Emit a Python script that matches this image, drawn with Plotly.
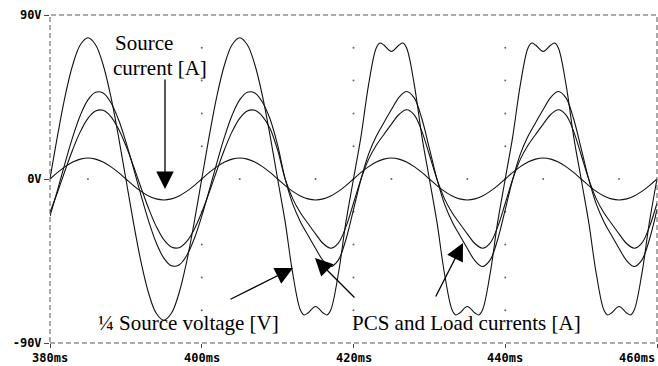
import plotly.graph_objects as go

# ---------------- data ----------------
t_ms = list(range(380, 461))

source_current = [
    0, 3.6, 6.8, 9.3, 10.9, 11.5, 10.9, 9.3, 6.8, 3.6,
    0, -3.6, -6.8, -9.3, -10.9, -11.5, -10.9, -9.3, -6.8, -3.6,
    0, 3.6, 6.8, 9.3, 10.9, 11.5, 10.9, 9.3, 6.8, 3.6,
    0, -3.6, -6.8, -9.3, -10.9, -11.5, -10.9, -9.3, -6.8, -3.6,
    0, 3.6, 6.8, 9.3, 10.9, 11.5, 10.9, 9.3, 6.8, 3.6,
    0, -3.6, -6.8, -9.3, -10.9, -11.5, -10.9, -9.3, -6.8, -3.6,
    0, 3.6, 6.8, 9.3, 10.9, 11.5, 10.9, 9.3, 6.8, 3.6,
    0, -3.6, -6.8, -9.3, -10.9, -11.5, -10.9, -9.3, -6.8, -3.6,
    0,
]

current_a = [
    -20.4, -6.0, 9.0, 23.1, 35.0, 43.4, 47.6, 47.2, 42.1, 32.9,
    20.4, 6.0, -9.0, -23.1, -35.0, -43.4, -47.6, -47.2, -42.1, -32.9,
    -20.4, -6.0, 9.0, 23.1, 35.0, 43.4, 47.6, 47.2, 42.1, 32.9,
    18.6, -0.1, -13.8, -23.4, -30.9, -38.1, -44.8, -48.0, -44.5, -33.2,
    -16.8, 0.1, 13.8, 23.4, 30.9, 38.1, 44.8, 48.0, 44.5, 33.2,
    16.8, -0.1, -13.8, -23.4, -30.9, -38.1, -44.8, -48.0, -44.5, -33.2,
    -16.8, 0.1, 13.8, 23.4, 30.9, 38.1, 44.8, 48.0, 44.5, 33.2,
    16.8, -0.1, -13.8, -23.4, -30.9, -38.1, -44.8, -48.0, -44.5, -33.2,
    -16.8,
]

current_b = [
    -18.3, -7.1, 4.8, 16.2, 26.0, 33.3, 37.3, 37.7, 34.4, 27.7,
    18.3, 7.1, -4.8, -16.2, -26.0, -33.3, -37.3, -37.7, -34.4, -27.7,
    -18.3, -7.1, 4.8, 16.2, 26.0, 33.3, 37.3, 37.7, 34.4, 27.7,
    15.8, -0.1, -10.9, -18.5, -24.4, -30.1, -35.4, -38.0, -35.2, -26.3,
    -13.3, 0.1, 10.9, 18.5, 24.4, 30.1, 35.4, 38.0, 35.2, 26.3,
    13.3, -0.1, -10.9, -18.5, -24.4, -30.1, -35.4, -38.0, -35.2, -26.3,
    -13.3, 0.1, 10.9, 18.5, 24.4, 30.1, 35.4, 38.0, 35.2, 26.3,
    13.3, -0.1, -10.9, -18.5, -24.4, -30.1, -35.4, -38.0, -35.2, -26.3,
    -13.3,
]

voltage_t = [
    380, 381, 382, 383, 384, 385, 386, 387, 388, 389,
    390, 391, 392, 393, 394, 395, 396, 397, 398, 399,
    400, 401, 402, 403, 404, 405, 406, 407, 408, 409,
    410, 411, 412, 413, 413.5, 414, 415, 416, 416.5, 417, 418, 419,
    420, 421, 422, 423, 423.5, 424, 425, 426, 426.5, 427, 428, 429,
    430, 431, 432, 433, 433.5, 434, 435, 436, 436.5, 437, 438, 439,
    440, 441, 442, 443, 443.5, 444, 445, 446, 446.5, 447, 448, 449,
    450, 451, 452, 453, 453.5, 454, 455, 456, 456.5, 457, 458, 459,
    460,
]
quarter_voltage = [
    0, 23.9, 45.6, 62.7, 73.7, 77.5, 73.7, 62.7, 45.6, 23.9,
    0, -23.9, -45.6, -62.7, -73.7, -77.5, -73.7, -62.7, -45.6, -23.9,
    0, 23.9, 45.6, 62.7, 73.7, 77.5, 73.7, 62.7, 45.6, 23.9,
    0, -23.7, -52.1, -71.9, -74.6, -73.5, -70.0, -73.5, -74.6, -71.9, -52.1, -23.7,
    0, 23.7, 52.1, 71.9, 74.6, 73.5, 70.0, 73.5, 74.6, 71.9, 52.1, 23.7,
    0, -23.7, -52.1, -71.9, -74.6, -73.5, -70.0, -73.5, -74.6, -71.9, -52.1, -23.7,
    0, 23.7, 52.1, 71.9, 74.6, 73.5, 70.0, 73.5, 74.6, 71.9, 52.1, 23.7,
    0, -23.7, -52.1, -71.9, -74.6, -73.5, -70.0, -73.5, -74.6, -71.9, -52.1, -23.7,
    0,
]

x_ticks = [380, 400, 420, 440, 460]
x_tick_labels = ["380ms", "400ms", "420ms", "440ms", "460ms"]
y_ticks = [-90, 0, 90]
y_tick_labels = ["-90V", "0V", "90V"]

# ---------------- layout geometry ----------------
W, H = 658, 366
ML, MR, MT, MB = 50, 1, 15, 23
PW, PH = W - ML - MR, H - MT - MB
X0, X1 = 380, 460
Y0, Y1 = -90, 90


def px_x(px):
    return X0 + (px - ML) / PW * (X1 - X0)


def px_y(py):
    return Y1 - (py - MT) / PH * (Y1 - Y0)


fig = go.Figure()

# dotted grid (PSpice style)
gx, gy = [], []
for xv in [400, 420, 440]:
    for yv in [-72, -54, -36, -18, 0, 18, 36, 54, 72]:
        gx.append(xv)
        gy.append(yv)
for xv in [385, 395, 405, 415, 425, 435, 445, 455]:
    gx.append(xv)
    gy.append(0)
fig.add_trace(go.Scatter(x=gx, y=gy, mode="markers",
                         marker=dict(size=2, color="#666"), hoverinfo="skip"))

line_style = dict(color="#111", width=1.1, shape="spline", smoothing=1)
fig.add_trace(go.Scatter(x=voltage_t, y=quarter_voltage, mode="lines", line=line_style))
fig.add_trace(go.Scatter(x=t_ms, y=current_a, mode="lines", line=line_style))
fig.add_trace(go.Scatter(x=t_ms, y=current_b, mode="lines", line=line_style))
fig.add_trace(go.Scatter(x=t_ms, y=source_current, mode="lines", line=line_style))

tick_font = dict(family="DejaVu Sans Mono", size=12, color="black", weight=700)

fig.update_layout(
    width=W, height=H,
    margin=dict(l=ML, r=MR, t=MT, b=MB, pad=0),
    paper_bgcolor="white", plot_bgcolor="white",
    showlegend=False,
    xaxis=dict(range=[X0, X1], showgrid=False, zeroline=False, showline=False,
               tickvals=x_ticks, ticks="outside", ticklen=4, tickcolor="#444",
               showticklabels=False),
    yaxis=dict(range=[Y0, Y1], showgrid=False, zeroline=False, showline=False,
               tickvals=y_ticks, ticktext=y_tick_labels, ticks="outside",
               ticklen=5, tickcolor="#444", tickfont=tick_font),
)

fig.add_shape(type="rect", xref="paper", yref="paper", x0=0, x1=1, y0=0, y1=1,
              line=dict(color="#555", width=1, dash="5px,3px"))

ann = []
for xv, lab in zip(x_ticks, x_tick_labels):
    ann.append(dict(x=xv, y=0, xref="x", yref="paper", text=lab, showarrow=False,
                    xanchor="right" if xv == X1 else "center", yanchor="top",
                    yshift=-6, font=tick_font))

text_font = dict(family="Liberation Serif", size=21, color="black")
ann.append(dict(x=px_x(113), y=px_y(43), text="Source", showarrow=False,
                xanchor="left", yanchor="middle", font=text_font))
ann.append(dict(x=px_x(111), y=px_y(68), text="current [A]", showarrow=False,
                xanchor="left", yanchor="middle", font=text_font))
ann.append(dict(x=px_x(96), y=px_y(323), text="¼ Source voltage [V]", showarrow=False,
                xanchor="left", yanchor="middle", font=text_font))
ann.append(dict(x=px_x(350), y=px_y(323), text="PCS and Load currents [A]", showarrow=False,
                xanchor="left", yanchor="middle", font=text_font))

# arrows: (tip px, tail px)
arrows = [((165, 189), (165, 78)),
          ((49, 249), (28, 298)),
          ((293, 268), (229, 300)),
          ((315, 258), (356, 299)),
          ((463, 243), (435, 298))]
for (tx, ty), (sx, sy) in arrows:
    ann.append(dict(x=px_x(tx), y=px_y(ty), xref="x", yref="y", text="",
                    showarrow=True, ax=sx - tx, ay=sy - ty, arrowhead=2,
                    arrowsize=2.7, arrowwidth=1.3, arrowcolor="black", standoff=0))
fig.update_layout(annotations=ann)

fig.write_html("out.html", config={"displayModeBar": False})
